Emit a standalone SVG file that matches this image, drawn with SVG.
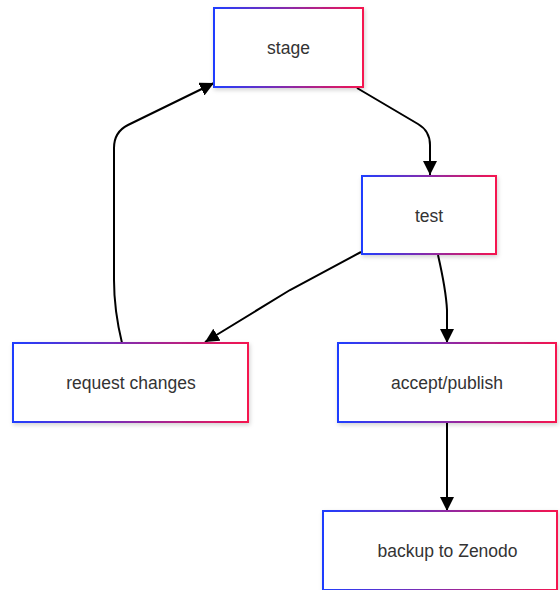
<svg xmlns="http://www.w3.org/2000/svg" width="560" height="590" viewBox="0 0 560 590">
  <defs>
    <linearGradient id="edgeGrad" x1="0" y1="0" x2="1" y2="0">
      <stop offset="0" stop-color="#1f3dff"/>
      <stop offset="0.5" stop-color="#8a2aa8"/>
      <stop offset="1" stop-color="#f5134f"/>
    </linearGradient>
    <filter id="shadow" x="-10%" y="-10%" width="130%" height="140%">
      <feDropShadow dx="1" dy="2" stdDeviation="2" flood-color="#000" flood-opacity="0.18"/>
    </filter>
    <marker id="arrow" viewBox="0 0 10 10" refX="10" refY="5" markerWidth="14" markerHeight="14" markerUnits="userSpaceOnUse" orient="auto">
      <path d="M0,0 L10,5 L0,10 z" fill="#000"/>
    </marker>
  </defs>
  <style>
    .box { fill: #fff; stroke: url(#edgeGrad); stroke-width: 2; filter: url(#shadow); }
    .label { font-family: "Liberation Sans", Arial, sans-serif; font-size: 17.5px; fill: #333; text-anchor: middle; dominant-baseline: central; }
    .edge { fill: none; stroke: #000; stroke-width: 2; marker-end: url(#arrow); }
  </style>
  <rect width="560" height="590" fill="#fff"/>

  <g id="edges">
    <path class="edge" d="M357,88 L418,124 Q430,131 430,145 L430,175"/>
    <path class="edge" d="M361,252 L290,290 Q285,293 205,342"/>
    <path class="edge" d="M438,255 Q446,290 447,310 L447,343"/>
    <path class="edge" d="M447,423 L447,511"/>
    <path class="edge" d="M122,343 Q114,310 114,280 L114,148 Q114,132 128,125 L214,83"/>
  </g>

  <g id="stage">
    <rect class="box" x="214" y="8" width="149" height="79"/>
    <text class="label" x="288.5" y="48">stage</text>
  </g>
  <g id="test">
    <rect class="box" x="362" y="176" width="134" height="78"/>
    <text class="label" x="429" y="215.5">test</text>
  </g>
  <g id="request-changes">
    <rect class="box" x="13" y="343" width="235" height="79"/>
    <text class="label" x="131" y="383">request changes</text>
  </g>
  <g id="accept-publish">
    <rect class="box" x="338" y="343" width="218" height="79"/>
    <text class="label" x="447" y="383">accept/publish</text>
  </g>
  <g id="backup-zenodo">
    <rect class="box" x="323" y="511" width="234" height="79"/>
    <text class="label" x="447.5" y="551">backup to Zenodo</text>
  </g>
</svg>
